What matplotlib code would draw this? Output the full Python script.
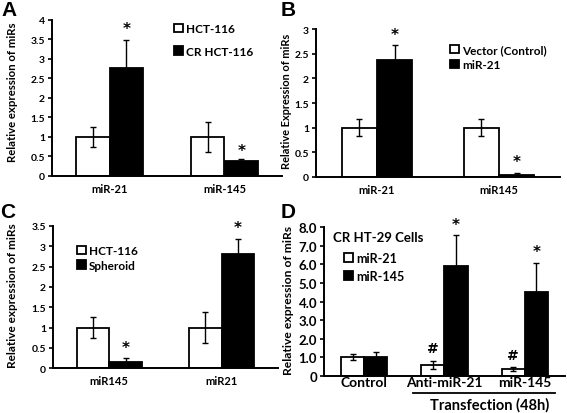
import matplotlib
matplotlib.use("Agg")
import matplotlib.pyplot as plt
import numpy as np

plt.rcParams['font.family'] = ['Lato', 'DejaVu Sans']

W, H = 567, 414

# ---- data ----
a_cats = ["miR-21", "miR-145"]
a_hct = [1.0, 1.0]
a_hct_err = [0.25, 0.38]
a_cr = [2.77, 0.39]
a_cr_err = [0.72, 0.04]

b_cats = ["miR-21", "miR145"]
b_vec = [1.0, 1.0]
b_vec_err = [0.17, 0.17]
b_mir = [2.37, 0.05]
b_mir_err = [0.30, 0.03]

c_cats = ["miR145", "miR21"]
c_hct = [1.0, 1.0]
c_hct_err = [0.26, 0.38]
c_sph = [0.16, 2.82]
c_sph_err = [0.09, 0.37]

d_cats = ["Control", "Anti-miR-21", "miR-145"]
d_mir21 = [1.0, 0.60, 0.37]
d_mir21_err = [0.16, 0.22, 0.09]
d_mir145 = [1.0, 5.93, 4.52]
d_mir145_err = [0.31, 1.63, 1.55]
d_marks_white = ["", "#", "#"]
d_marks_black = ["", "*", "*"]

fig = plt.figure(figsize=(W / 100, H / 100), dpi=100)
renderer = fig.canvas.get_renderer()


def px_axes(left, top, right, bottom):
    return fig.add_axes([left / W, 1 - bottom / H, (right - left) / W, (bottom - top) / H])


def bar_panel(ax, cats, v1, e1, v2, e2, ylim, yticks, yfmt, tick_fs, cat_fs, cat_pad=5):
    x = np.arange(len(cats))
    w = 0.29
    ekw = dict(elinewidth=1.0, capthick=1.0, capsize=2.5, ecolor='black')
    ax.bar(x - w / 2, v1, w, yerr=e1, color='white', edgecolor='black', linewidth=1.3,
           error_kw=ekw, zorder=2)
    ax.bar(x + w / 2, v2, w, yerr=e2, color='black', edgecolor='black', linewidth=1.3,
           error_kw=ekw, zorder=2)
    ax.set_xlim(-0.5, len(cats) - 0.5)
    ax.set_ylim(*ylim)
    ax.set_yticks(yticks)
    ax.set_yticklabels([yfmt(t) for t in yticks], fontsize=tick_fs, fontweight='bold')
    ax.set_xticks(x)
    ax.set_xticklabels(cats, fontsize=cat_fs, fontweight='bold')
    ax.tick_params(axis='x', length=0, pad=cat_pad)
    ax.tick_params(axis='y', length=3, width=1.2, pad=2)
    for s in ['top', 'right']:
        ax.spines[s].set_visible(False)
    for s in ['left', 'bottom']:
        ax.spines[s].set_linewidth(1.4)
    return x, w


def mark(ax, xpos, top, sym, off=8, fs=11):
    ax.annotate(sym, (xpos, top), xytext=(0, off), textcoords='offset points',
                ha='center', va='center', fontsize=fs, fontweight='bold',
                family='DejaVu Sans')


def legend_px(ax, handles, labels, x, y, spacing, fs):
    ax.legend(handles, labels, loc='upper left', bbox_to_anchor=(x / W, 1 - y / H),
              bbox_transform=fig.transFigure, frameon=False,
              prop={'weight': 'bold', 'size': fs}, handlelength=0.75, handleheight=0.75,
              handletextpad=0.25, labelspacing=spacing, borderpad=0, borderaxespad=0)


def ylabel_px(text, xc, top, bottom):
    # rotated label sized so that it spans from top to bottom (pixels)
    t = fig.text(xc / W, 1 - (top + bottom) / 2 / H, text, rotation=90,
                 ha='center', va='center', fontsize=8, fontweight='bold')
    length = t.get_window_extent(renderer).height
    t.set_fontsize(8 * (bottom - top) / length)
    return t


def fmt_plain(t):
    return f"{t:g}"


def fmt_one(t):
    return "0" if t == 0 else f"{t:.1f}"


# ---- A ----
axA = px_axes(52, 21, 282, 176.7)
x, w = bar_panel(axA, a_cats, a_hct, a_hct_err, a_cr, a_cr_err, (0, 4),
                 np.arange(0, 4.01, 0.5), fmt_plain, 7.5, 8)
hA = axA.containers
mark(axA, x[0] + w / 2, a_cr[0] + a_cr_err[0], "*")
mark(axA, x[1] + w / 2, a_cr[1] + a_cr_err[1], "*", off=6)
legend_px(axA, [hA[1], hA[3]], ["HCT-116", "CR HCT-116"], 174, 24, 1.0, 8.5)
ylabel_px("Relative expression of miRs", 13, 22, 162)

# ---- B ----
axB = px_axes(316, 30, 560, 178)
x, w = bar_panel(axB, b_cats, b_vec, b_vec_err, b_mir, b_mir_err, (0, 3),
                 np.arange(0, 3.01, 0.5), fmt_plain, 7.5, 8)
hB = axB.containers
mark(axB, x[0] + w / 2, b_mir[0] + b_mir_err[0], "*")
mark(axB, x[1] + w / 2, b_mir[1] + b_mir_err[1], "*")
legend_px(axB, [hB[1], hB[3]], ["Vector (Control)", "miR-21"], 450, 45, 0.35, 8.5)
ylabel_px("Relative Expression of miRs", 286, 33, 170)

# ---- C ----
axC = px_axes(53, 227, 278, 369.3)
x, w = bar_panel(axC, c_cats, c_hct, c_hct_err, c_sph, c_sph_err, (0, 3.5),
                 np.arange(0, 3.51, 0.5), fmt_plain, 7.5, 8)
hC = axC.containers
mark(axC, x[0] + w / 2, c_sph[0] + c_sph_err[0], "*")
mark(axC, x[1] + w / 2, c_sph[1] + c_sph_err[1], "*")
legend_px(axC, [hC[1], hC[3]], ["HCT-116", "Spheroid"], 77, 246, 0.3, 8.5)
ylabel_px("Relative expression of miRs", 13, 223, 368)

# ---- D ----
axD = px_axes(324, 228, 565, 377)
x, w = bar_panel(axD, d_cats, d_mir21, d_mir21_err, d_mir145, d_mir145_err, (0, 8),
                 np.arange(0, 8.01, 1), fmt_one, 9.5, 10, cat_pad=0.3)
hD = axD.containers
for i in range(len(d_cats)):
    if d_marks_white[i]:
        mark(axD, x[i] - w / 2, d_mir21[i] + d_mir21_err[i], d_marks_white[i], off=9, fs=10)
    if d_marks_black[i]:
        mark(axD, x[i] + w / 2, d_mir145[i] + d_mir145_err[i], d_marks_black[i])
legend_px(axD, [hD[1], hD[3]], ["miR-21", "miR-145"], 344, 253, 0.45, 9)
axD.text(333 / W, 1 - 238 / H, "CR HT-29 Cells", transform=fig.transFigure,
         ha='left', va='center', fontsize=9.5, fontweight='bold')
ylabel_px("Relative expression of miRs", 288, 225, 375)
fig.add_artist(plt.Line2D([413 / W, 555 / W], [1 - 394 / H, 1 - 394 / H],
                          color='black', linewidth=1.3))
fig.text(490 / W, 1 - 405 / H, "Transfection (48h)", ha='center', va='center',
         fontsize=10.5, fontweight='bold')

# ---- panel letters ----
for lab, px, py in [("A", 1, 10), ("B", 281, 10), ("C", 0, 212), ("D", 281, 212)]:
    fig.text(px / W, 1 - py / H, lab, ha='left', va='center', fontsize=15,
             fontweight='bold', family='Liberation Sans')

fig.savefig("out.png", dpi=100)
